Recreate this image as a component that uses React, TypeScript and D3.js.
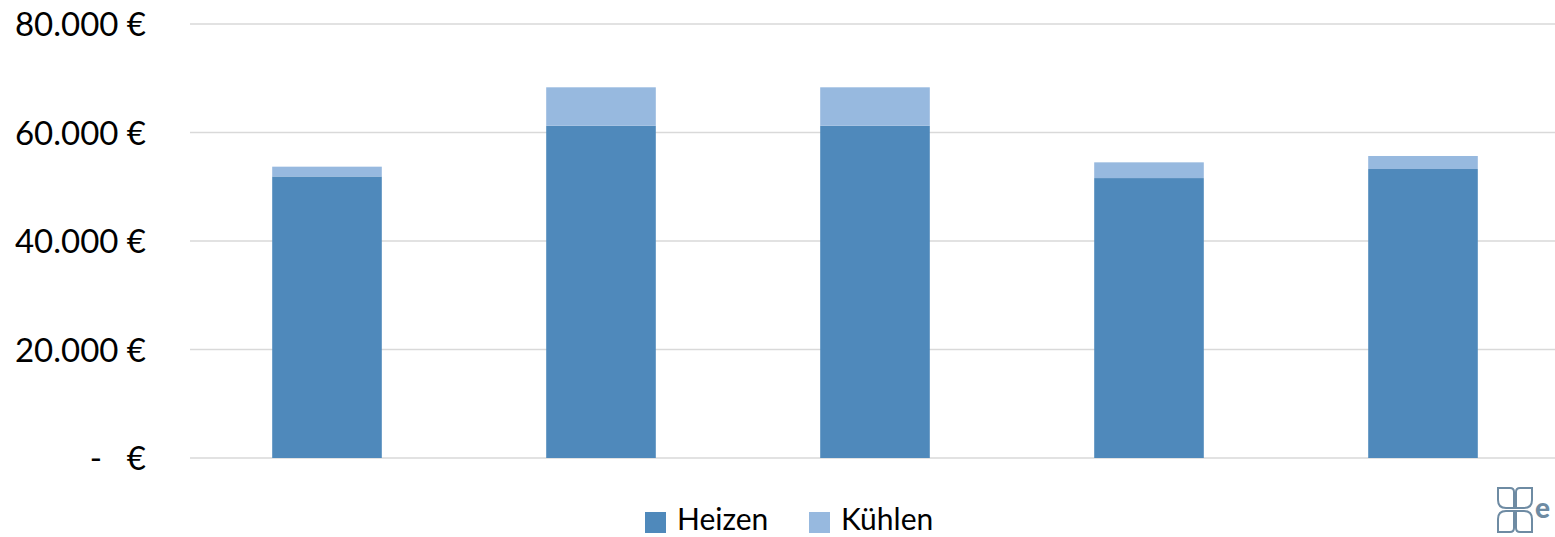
import React from "react";
import * as d3 from "d3";

// Kosten Heizen / Kühlen je Variante
const variants = ["V1", "V2", "V3", "V4", "V5"];
const heizen = [51900, 61250, 61250, 51600, 53270];
const kuehlen = [1800, 7080, 7080, 2900, 2400];
const seriesNames = ["Heizen", "Kühlen"];
const seriesColors = ["#4F89BB", "#97B9DF"];
const yTicks = [0, 20000, 40000, 60000, 80000];

const W = 1555;
const H = 537;
const FONT = "Lato, 'Open Sans', sans-serif";

function App() {
  const x = d3
    .scaleBand<string>()
    .domain(variants)
    .range([190, 1560])
    .paddingInner(0.6)
    .paddingOuter(0.3);

  const y = d3.scaleLinear().domain([0, 80000]).range([458, 24]);

  const rows = variants.map((v, i) => ({ v, Heizen: heizen[i], Kühlen: kuehlen[i] }));
  const stacked = d3.stack<any>().keys(seriesNames)(rows);

  const fmt = (n: number) => d3.format(",")(n).replace(/,/g, ".") + " €";

  return (
    <svg width={W} height={H} style={{ display: "block", position: "absolute", left: 0, top: 0 }}>
      <rect width={W} height={H} fill="#fff" />
      {/* grid */}
      {yTicks.map((t) => (
        <line key={t} x1={190} x2={W} y1={y(t)} y2={y(t)} stroke="#D9D9D9" strokeWidth={1.3} />
      ))}
      {/* y labels */}
      {yTicks.map((t) =>
        t === 0 ? (
          <g key={t} fontFamily={FONT} fontSize={33} fill="#000">
            <text x={96} y={y(t) + 12} textAnchor="middle">-</text>
            <text x={146} y={y(t) + 12} textAnchor="end">€</text>
          </g>
        ) : (
          <text key={t} x={146} y={y(t) + 12} textAnchor="end" fontFamily={FONT} fontSize={33} fill="#000">
            {fmt(t)}
          </text>
        )
      )}
      {/* bars */}
      {stacked.map((s, si) => (
        <g key={s.key} fill={seriesColors[si]}>
          {s.map((d: any) => (
            <rect
              key={d.data.v}
              x={x(d.data.v)}
              width={x.bandwidth()}
              y={y(d[1])}
              height={y(d[0]) - y(d[1])}
            />
          ))}
        </g>
      ))}
      {/* legend */}
      <g fontFamily={FONT} fontSize={30} fill="#000">
        <rect x={645} y={512} width={21} height={21} fill={seriesColors[0]} />
        <text x={677} y={530}>{seriesNames[0]}</text>
        <rect x={809} y={512} width={21} height={21} fill={seriesColors[1]} />
        <text x={841} y={530}>{seriesNames[1]}</text>
      </g>
      {/* logo */}
      <g fill="none" stroke="#6E8BA3" strokeWidth={2}>
        <path d="M1514,508 L1514,492 Q1514,488 1510,488 L1498,488 L1498,500 Q1498,508 1506,508 Z" />
        <path d="M1516,508 L1516,492 Q1516,488 1520,488 L1532,488 L1532,500 Q1532,508 1524,508 Z" />
        <path d="M1514,511 L1514,528 Q1514,532 1510,532 L1498,532 L1498,519 Q1498,511 1506,511 Z" />
        <path d="M1516,511 L1516,528 Q1516,532 1520,532 L1532,532 L1532,519 Q1532,511 1524,511 Z" />
      </g>
      <text x={1535} y={518} fontFamily={FONT} fontWeight="900" fontSize={28} fill="#6E8BA3">e</text>
    </svg>
  );
}

export default App;
